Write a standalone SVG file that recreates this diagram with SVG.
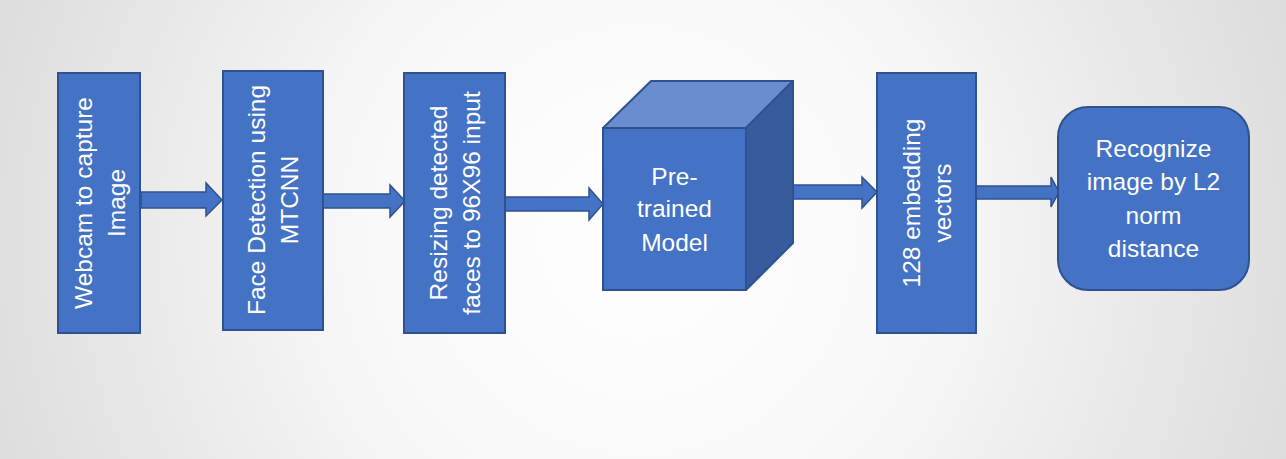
<svg xmlns="http://www.w3.org/2000/svg" width="1286" height="459" viewBox="0 0 1286 459">
<defs>
<radialGradient id="bg" gradientUnits="userSpaceOnUse" cx="640" cy="240" r="720">
<stop offset="0" stop-color="#ffffff"/>
<stop offset="0.4" stop-color="#f8f8f8"/>
<stop offset="1" stop-color="#dadada"/>
</radialGradient>
<style>
.box{fill:#4472C4;stroke:#2F528F;stroke-width:2}
.top{fill:#698ED0;stroke:#2F528F;stroke-width:2;stroke-linejoin:round}
.side{fill:#365C9E;stroke:#2F528F;stroke-width:2;stroke-linejoin:round}
.arr{fill:#4472C4;stroke:#2F528F;stroke-width:1.5;stroke-linejoin:miter}
.t{font-family:"Liberation Sans",Arial,sans-serif;font-size:24.5px;fill:#ffffff;text-anchor:middle}
</style>
</defs>
<rect x="0" y="0" width="1286" height="459" fill="url(#bg)"/>
<g id="connectors">
<polygon class="arr" points="141,192 206,192 206,183 222,200 206,216 206,208 141,208"/>
<polygon class="arr" points="323,194 390,194 390,185 405,201 390,217 390,208 323,208"/>
<polygon class="arr" points="505,197 589,197 589,188 603,204 589,220 589,211 505,211"/>
<polygon class="arr" points="793,185 862,185 862,177 877,192 862,208 862,199 793,199"/>
<polygon class="arr" points="976,186 1051,186 1051,177 1059,192 1051,207 1051,199 976,199"/>
</g>
<g id="webcam">
<rect class="box" x="58" y="73" width="82" height="260"/>
<g transform="translate(99,203) rotate(-90)">
<text class="t" x="0" y="-7">Webcam to capture</text>
<text class="t" x="0" y="26">Image</text>
</g>
</g>
<g id="face-detection">
<rect class="box" x="223" y="71" width="100" height="259"/>
<g transform="translate(273,200) rotate(-90)">
<text class="t" x="0" y="-8">Face Detection using</text>
<text class="t" x="0" y="25">MTCNN</text>
</g>
</g>
<g id="resizing">
<rect class="box" x="404" y="73" width="101" height="260"/>
<g transform="translate(454.5,203) rotate(-90)">
<text class="t" x="0" y="-8">Resizing detected</text>
<text class="t" x="0" y="25">faces to 96X96 input</text>
</g>
</g>
<g id="pretrained-model">
<polygon class="top" points="603,128 651,81 793,81 746,128"/>
<polygon class="side" points="746,128 793,81 793,243 746,290"/>
<rect class="box" x="603" y="128" width="143" height="162"/>
<text class="t" x="674.5" y="185">Pre-</text>
<text class="t" x="674.5" y="217">trained</text>
<text class="t" x="674.5" y="251">Model</text>
</g>
<g id="embedding">
<rect class="box" x="877" y="73" width="99" height="260"/>
<g transform="translate(926.5,203) rotate(-90)">
<text class="t" x="0" y="-7">128 embedding</text>
<text class="t" x="0" y="24">vectors</text>
</g>
</g>
<g id="recognize">
<rect class="box" x="1058" y="107" width="191" height="183" rx="30" ry="30"/>
<text class="t" x="1153.5" y="157">Recognize</text>
<text class="t" x="1153.5" y="190">image by L2</text>
<text class="t" x="1153.5" y="224">norm</text>
<text class="t" x="1153.5" y="257">distance</text>
</g>
</svg>
